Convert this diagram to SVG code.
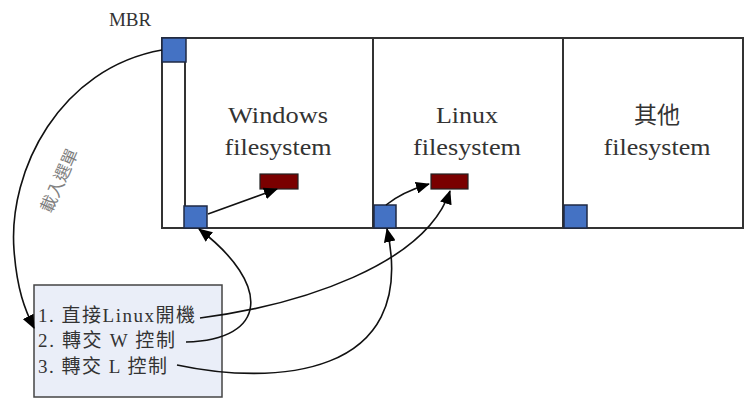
<svg xmlns="http://www.w3.org/2000/svg" width="744" height="400" viewBox="0 0 744 400">
<style>
.lbl{font-family:"Liberation Serif","Noto Sans CJK TC",serif;font-size:23px;fill:#333;text-anchor:middle}
.item{font-family:"Liberation Serif","Noto Sans CJK TC",serif;font-size:19px;fill:#333}
.rot{font-family:"Liberation Serif","Noto Sans CJK TC",serif;font-size:17px;fill:#808080}
.blue{fill:#4472c4;stroke:#1f2a44;stroke-width:1.5}
.red{fill:#7a0000;stroke:#222;stroke-width:1.2}
.conn{fill:none;stroke:#111;stroke-width:1.6}
.arr{marker-end:url(#ah)}
</style>
<defs>
<marker id="ah" markerWidth="14" markerHeight="12" refX="13" refY="6" orient="auto" markerUnits="userSpaceOnUse">
<path d="M0,0 L14,6 L0,12 Z" fill="#000"/>
</marker>
</defs>
<rect x="0" y="0" width="744" height="400" fill="#fff"/>
<g id="disk">
<rect x="162" y="38" width="581" height="190" fill="#fff" stroke="#333" stroke-width="2"/>
<line x1="185" y1="38" x2="185" y2="228" stroke="#333" stroke-width="2"/>
<line x1="373" y1="38" x2="373" y2="228" stroke="#333" stroke-width="2"/>
<line x1="563" y1="38" x2="563" y2="228" stroke="#333" stroke-width="2"/>
</g>
<g id="mbr">
<text class="item" x="130" y="26" text-anchor="middle" font-size="20">MBR</text>
<rect class="blue" x="162" y="38" width="24" height="24"/>
</g>
<g id="windows">
<text class="lbl" x="278" y="123" textLength="100" lengthAdjust="spacingAndGlyphs">Windows</text>
<text class="lbl" x="278" y="155" textLength="107" lengthAdjust="spacingAndGlyphs">filesystem</text>
<rect class="blue" x="184" y="206" width="23" height="22"/>
<rect class="red" x="260" y="174" width="38" height="15"/>
</g>
<g id="linux">
<text class="lbl" x="467" y="123" textLength="62" lengthAdjust="spacingAndGlyphs">Linux</text>
<text class="lbl" x="467" y="155" textLength="108" lengthAdjust="spacingAndGlyphs">filesystem</text>
<rect class="blue" x="374" y="205" width="22" height="23"/>
<rect class="red" x="431" y="174" width="37" height="15"/>
</g>
<g id="other">
<text class="lbl" x="657" y="123">其他</text>
<text class="lbl" x="657" y="155" textLength="107" lengthAdjust="spacingAndGlyphs">filesystem</text>
<rect class="blue" x="564" y="205" width="23" height="23"/>
</g>
<g id="menu">
<rect x="34" y="285" width="188" height="112" fill="#eaeef8" stroke="#444" stroke-width="1.5"/>
<text class="item" x="38" y="322" textLength="157">1. 直接Linux開機</text>
<text class="item" x="38" y="347" textLength="137">2. 轉交 W 控制</text>
<text class="item" x="38" y="373" textLength="129">3. 轉交 L 控制</text>
</g>
<g id="connectors">
<path class="conn arr" d="M162,50 C60,68 8,170 14,250 C17,290 25,310 34,328"/>
<text class="rot" x="0" y="0" transform="translate(51,214) rotate(-66)">載入選單</text>
<path class="conn arr" d="M208,214 L277,189"/>
<path class="conn arr" d="M386,205 Q402,192 429,184"/>
<path class="conn arr" d="M200,318 C300,305 425,265 450,191"/>
<path class="conn arr" d="M186,342 C268,340 272,285 199,229"/>
<path class="conn arr" d="M177,365 C270,385 420,380 387,229"/>
</g>
</svg>
